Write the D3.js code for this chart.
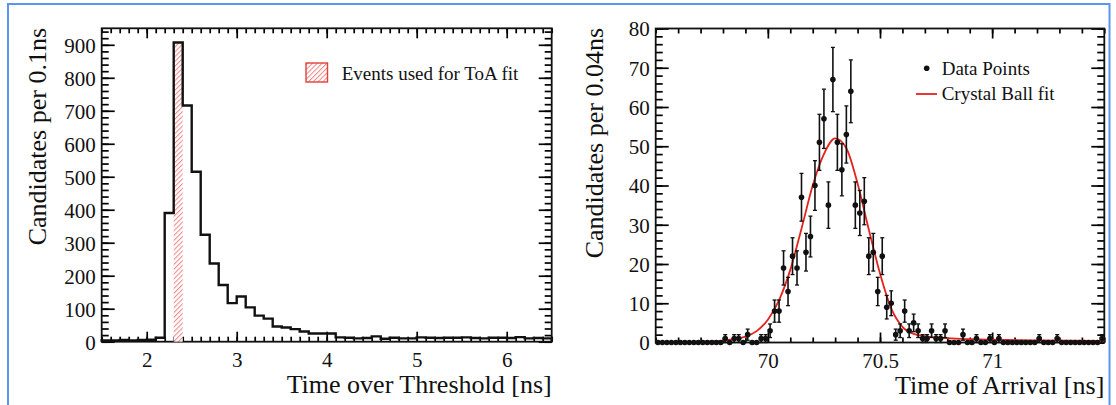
<!DOCTYPE html>
<html><head><meta charset="utf-8">
<script src="https://cdn.jsdelivr.net/npm/d3@7"></script>
<style>
html,body{margin:0;padding:0;background:#fff;}
svg{display:block;}
text{font-family:"Liberation Serif","Times New Roman",serif;fill:#111;}
</style></head><body>
<svg id="c" width="1116" height="405"></svg>
<script>
// ---------------- DATA ----------------
// Left panel: Time over Threshold histogram (bin lower edges, 0.1 ns bins)
const totBinLow = [1.5,1.6,1.7,1.8,1.9,2.0,2.1,2.2,2.3,2.4,2.5,2.6,2.7,2.8,2.9,3.0,3.1,3.2,3.3,3.4,3.5,3.6,3.7,3.8,3.9,
                   4.0,4.1,4.2,4.3,4.4,4.5,4.6,4.7,4.8,4.9,5.0,5.1,5.2,5.3,5.4,5.5,5.6,5.7,5.8,5.9,6.0,6.1,6.2,6.3,6.4];
const totBinWidth = 0.1;
const totCounts = [4,4,5,4,5,6,12,390,907,716,515,324,237,172,117,137,104,79,70,46,43,38,31,25,25,
                   25,13,12,10,11,16,9,12,10,10,13,12,11,12,12,13,11,10,12,12,11,14,10,11,10];
const totSelected = [2.3, 2.4];           // hatched bin used for ToA fit
const totYTicks = [0,100,200,300,400,500,600,700,800,900];
const totXTicks = [2,3,4,5,6];
const totLegend = "Events used for ToA fit";

// Right panel: Time of Arrival data points (bin centres)
const toaCenters = [69.51,69.53,69.55,69.57,69.59,69.61,69.63,69.65,69.67,69.69,
                    69.71,69.73,69.75,69.77,69.79,69.81,69.83,69.85,69.87,69.89,
                    69.91,69.93,69.95,69.97,69.99,70.01,70.03,70.05,70.07,70.09,
                    70.11,70.13,70.15,70.17,70.19,70.21,70.23,70.25,70.27,70.29,
                    70.31,70.33,70.35,70.37,70.39,70.41,70.43,70.45,70.47,70.49,
                    70.51,70.53,70.55,70.57,70.59,70.61,70.63,70.65,70.67,70.69,
                    70.71,70.73,70.75,70.77,70.79,70.81,70.83,70.85,70.87,70.89,
                    70.91,70.93,70.95,70.97,70.99,71.01,71.03,71.05,71.07,71.09,
                    71.11,71.13,71.15,71.17,71.19,71.21,71.23,71.25,71.27,71.29,
                    71.31,71.33,71.35,71.37,71.39,71.41,71.43,71.45,71.47,71.49];
const toaCounts = [0,0,0,0,0,0,0,0,0,0,
                   0,0,0,0,0,1,0,1,1,0,
                   2,0,0,1,1,3,8,8,19,13,
                   22,19,37,23,27,40,51,57,35,67,
                   51,44,53,64,35,33,36,22,23,13,
                   22,9,10,2,3,8,3,5,3,1,
                   1,3,1,1,3,0,0,0,2,0,
                   0,1,0,0,1,0,1,0,0,0,
                   0,0,0,0,0,1,0,0,0,1,
                   0,0,0,0,0,0,0,0,0,1];
// Crystal Ball fit curve
const fitX = [69.50,69.60,69.70,69.75,69.80,69.85,69.90,69.95,70.00,70.05,70.10,70.15,70.20,70.25,70.30,
              70.35,70.40,70.45,70.50,70.55,70.60,70.65,70.70,70.80,70.90,71.00,71.20,71.50];
const fitY = [0.05,0.1,0.2,0.3,0.5,0.9,1.5,2.9,5.8,10.8,18.5,29,40,48,52,
              49.5,40.5,28.8,17.6,8.7,4.0,2.2,1.6,1.1,0.85,0.7,0.55,0.4];
const toaYTicks = [0,10,20,30,40,50,60,70,80];
const toaXTicks = [70,70.5,71];
const toaLegend = ["Data Points","Crystal Ball fit"];

// ---------------- DRAW ----------------
const svg = d3.select("#c");
const defs = svg.append("defs");
const pat = defs.append("pattern").attr("id","hatch").attr("patternUnits","userSpaceOnUse")
  .attr("width",3.4).attr("height",3.4).attr("patternTransform","rotate(45)");
pat.append("rect").attr("width",3.4).attr("height",3.4).attr("fill","#fff");
pat.append("line").attr("x1",0.5).attr("y1",0).attr("x2",0.5).attr("y2",3.4)
  .attr("stroke","#ef8a8a").attr("stroke-width",1.1);

// page border
svg.append("path").attr("d","M8,410 V4 H1109.5 V410").attr("fill","none")
  .attr("stroke","#5b95ef").attr("stroke-width",2);

const noLabel = () => "";
function drawAxes(g, x, y, xMajor, xMinor, yMajor, yMinor, fmtX) {
  const b = {x0:x.range()[0], x1:x.range()[1], y0:y.range()[0], y1:y.range()[1]};
  const add = (tx, axis) => {
    const a = g.append("g").attr("transform",tx).call(axis);
    a.select(".domain").remove();
    a.selectAll(".tick line").attr("stroke","#000").attr("stroke-width",1.7);
    return a;
  };
  // bottom
  add(`translate(0,${b.y0})`, d3.axisBottom(x).tickValues(xMinor).tickSizeInner(-5).tickSizeOuter(0).tickFormat(noLabel));
  const bx = add(`translate(0,${b.y0})`, d3.axisBottom(x).tickValues(xMajor).tickSizeInner(-10).tickSizeOuter(0).tickFormat(fmtX));
  bx.selectAll("text").attr("y",25).attr("dy",0).attr("font-size",21).attr("fill","#111");
  // top
  add(`translate(0,${b.y1})`, d3.axisTop(x).tickValues(xMinor).tickSizeInner(-5).tickSizeOuter(0).tickFormat(noLabel));
  add(`translate(0,${b.y1})`, d3.axisTop(x).tickValues(xMajor).tickSizeInner(-10).tickSizeOuter(0).tickFormat(noLabel));
  // left
  add(`translate(${b.x0},0)`, d3.axisLeft(y).tickValues(yMinor).tickSizeInner(-7).tickSizeOuter(0).tickFormat(noLabel));
  const ly = add(`translate(${b.x0},0)`, d3.axisLeft(y).tickValues(yMajor).tickSizeInner(-13).tickSizeOuter(0).tickPadding(6).tickFormat(d3.format("d")));
  ly.selectAll("text").attr("dy","0.35em").attr("font-size",21).attr("fill","#111");
  // right
  add(`translate(${b.x1},0)`, d3.axisRight(y).tickValues(yMinor).tickSizeInner(-7).tickSizeOuter(0).tickFormat(noLabel));
  add(`translate(${b.x1},0)`, d3.axisRight(y).tickValues(yMajor).tickSizeInner(-13).tickSizeOuter(0).tickFormat(noLabel));
  // frame
  g.append("rect").attr("x",b.x0).attr("y",b.y1).attr("width",b.x1-b.x0).attr("height",b.y0-b.y1)
    .attr("fill","none").attr("stroke","#111").attr("stroke-width",1.8);
}

// ---- Left panel ----
const gL = svg.append("g");
const xL = d3.scaleLinear().domain([1.5,6.5]).range([101.7,551.7]);
const yL = d3.scaleLinear().domain([0,950]).range([341.7,28.3]);
drawAxes(gL, xL, yL, totXTicks, d3.range(15,66,1).map(v=>v/10), totYTicks, d3.range(0,951,20), d3.format("d"));
const selIdx = totBinLow.findIndex(v => Math.abs(v-totSelected[0])<1e-9);
gL.append("rect").attr("x",xL(totSelected[0])).attr("width",xL(totSelected[1])-xL(totSelected[0]))
  .attr("y",yL(totCounts[selIdx])).attr("height",yL(0)-yL(totCounts[selIdx])).attr("fill","url(#hatch)");
let dH = `M${xL(totBinLow[0])},${yL(0)}`;
totBinLow.forEach((lo,i) => { dH += `V${yL(totCounts[i])}H${xL(lo+totBinWidth)}`; });
dH += `V${yL(0)}`;
gL.append("path").attr("d",dH).attr("fill","none").attr("stroke","#111").attr("stroke-width",2.4);
gL.append("text").attr("transform","translate(46,28) rotate(-90)").attr("text-anchor","end")
  .style("font-size","26px").text("Candidates per 0.1ns");
gL.append("text").attr("x",551.7).attr("y",393).attr("text-anchor","end")
  .style("font-size","26px").text("Time over Threshold [ns]");
// legend
gL.append("rect").attr("x",306).attr("y",63).attr("width",21.5).attr("height",19)
  .attr("fill","url(#hatch)").attr("stroke","#e2403a").attr("stroke-width",1.4);
gL.append("text").attr("x",341.7).attr("y",80).style("font-size","19px").text(totLegend);

// ---- Right panel ----
const gR = svg.append("g");
const xR = d3.scaleLinear().domain([69.5,71.5]).range([655.7,1104.3]);
const yR = d3.scaleLinear().domain([0,80]).range([342.5,28.5]);
drawAxes(gR, xR, yR, toaXTicks, d3.range(695,716,1).map(v=>v/10), toaYTicks, d3.range(0,81,2), d3.format(""));
const fitLine = d3.line().x((d,i)=>xR(fitX[i])).y((d,i)=>yR(fitY[i])).curve(d3.curveMonotoneX);
gR.append("path").attr("d",fitLine(fitX)).attr("fill","none").attr("stroke","#e3231c").attr("stroke-width",1.8);
const pts = gR.append("g");
toaCenters.forEach((c,i) => {
  const n = toaCounts[i], e = Math.sqrt(n), cx = xR(c);
  if (n > 0) {
    pts.append("line").attr("x1",cx).attr("x2",cx).attr("y1",yR(n-e)).attr("y2",yR(n+e))
      .attr("stroke","#111").attr("stroke-width",1.6);
    [n-e, n+e].forEach(v => pts.append("line").attr("x1",cx-2).attr("x2",cx+2)
      .attr("y1",yR(v)).attr("y2",yR(v)).attr("stroke","#111").attr("stroke-width",1.3));
  }
  pts.append("circle").attr("cx",cx).attr("cy",yR(n)).attr("r",2.8).attr("fill","#111");
});
gR.append("text").attr("transform","translate(603,28) rotate(-90)").attr("text-anchor","end")
  .style("font-size","26px").text("Candidates per 0.04ns");
gR.append("text").attr("x",1104.3).attr("y",394).attr("text-anchor","end")
  .style("font-size","26px").text("Time of Arrival [ns]");
// legend
gR.append("circle").attr("cx",926.7).attr("cy",68.3).attr("r",2.8).attr("fill","#111");
gR.append("line").attr("x1",916).attr("x2",937).attr("y1",94).attr("y2",94).attr("stroke","#e3231c").attr("stroke-width",1.8);
gR.append("text").attr("x",941.7).attr("y",75).style("font-size","19px").text(toaLegend[0]);
gR.append("text").attr("x",941.7).attr("y",100).style("font-size","19px").text(toaLegend[1]);
</script></body></html>
